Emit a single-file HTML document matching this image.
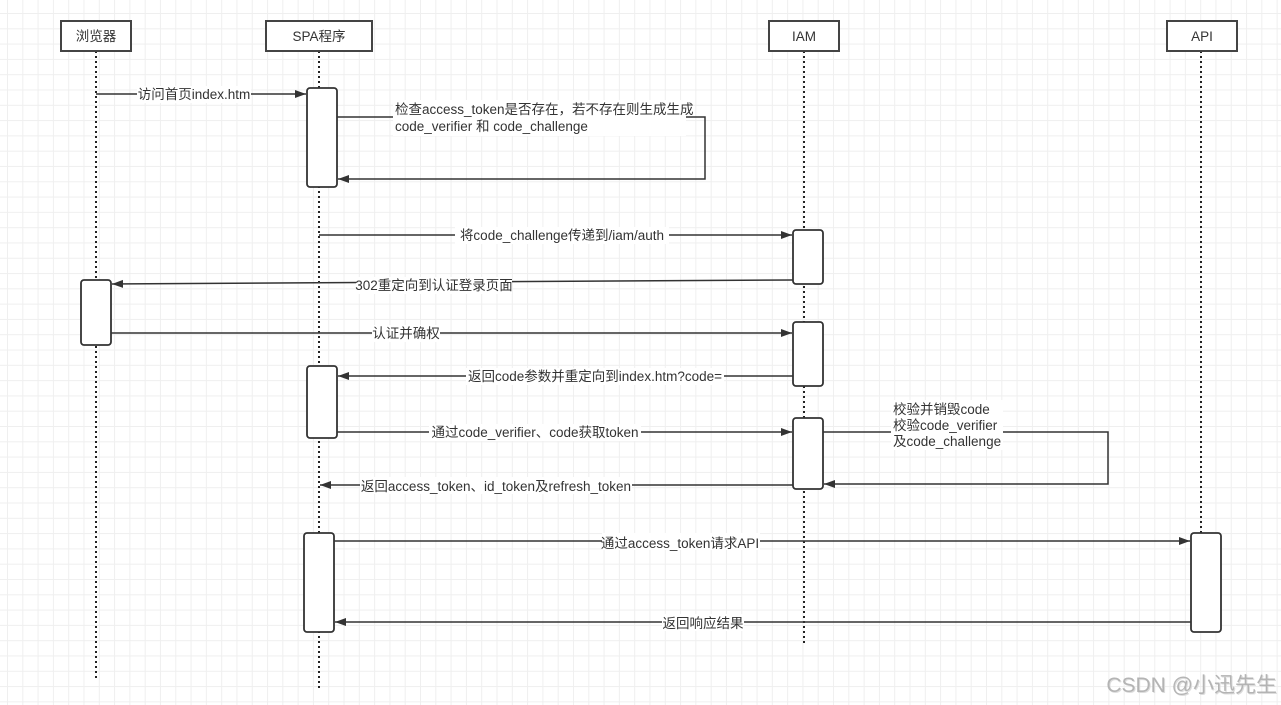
<!DOCTYPE html>
<html><head><meta charset="utf-8"><style>
html,body{margin:0;padding:0;}
body{width:1281px;height:705px;overflow:hidden;background:#fff;
background-image:linear-gradient(to right,#efefef 1px,transparent 1px),linear-gradient(to bottom,#efefef 1px,transparent 1px);
background-size:15.3px 15.3px;background-position:7px 13px;}
svg{position:absolute;left:0;top:0;}
text{font-family:"Liberation Sans","Noto Sans CJK SC",sans-serif;font-size:13.5px;fill:#333;}
</style></head><body>
<svg width="1281" height="705" viewBox="0 0 1281 705">
<defs><marker id="a" markerWidth="12" markerHeight="10" refX="11" refY="4" orient="auto" markerUnits="userSpaceOnUse"><path d="M0,0 L11,4 L0,8 Z" fill="#333"/></marker></defs>
<g stroke="#222" stroke-width="2" stroke-dasharray="2,3">
<line x1="96" y1="51" x2="96" y2="680"/>
<line x1="319" y1="51" x2="319" y2="690"/>
<line x1="804" y1="51" x2="804" y2="643"/>
<line x1="1201" y1="51" x2="1201" y2="632"/>
</g>
<g fill="#fff" stroke="#444" stroke-width="2">
<rect x="61" y="21" width="70" height="30"/>
<rect x="266" y="21" width="106" height="30"/>
<rect x="769" y="21" width="70" height="30"/>
<rect x="1167" y="21" width="70" height="30"/>
</g>
<g text-anchor="middle" style="font-size:14px">
<text x="96" y="41">浏览器</text><text x="319" y="41">SPA程序</text><text x="804" y="41">IAM</text><text x="1202" y="41">API</text>
</g>
<g fill="#fff" stroke="#333" stroke-width="1.8">
<rect x="307" y="88" width="30" height="99" rx="3"/>
<rect x="793" y="230" width="30" height="54" rx="3"/>
<rect x="81" y="280" width="30" height="65" rx="3"/>
<rect x="793" y="322" width="30" height="64" rx="3"/>
<rect x="307" y="366" width="30" height="72" rx="3"/>
<rect x="793" y="418" width="30" height="71" rx="3"/>
<rect x="304" y="533" width="30" height="99" rx="3"/>
<rect x="1191" y="533" width="30" height="99" rx="3"/>
</g>
<g stroke="#333" stroke-width="1.5" fill="none" marker-end="url(#a)">
<line x1="96" y1="94" x2="306" y2="94"/>
<polyline points="337,117 705,117 705,179 338,179"/>
<line x1="319" y1="235" x2="792" y2="235"/>
<line x1="793" y1="280" x2="112" y2="284"/>
<line x1="111" y1="333" x2="792" y2="333"/>
<line x1="793" y1="376" x2="338" y2="376"/>
<line x1="337" y1="432" x2="792" y2="432"/>
<polyline points="823,432 1108,432 1108,484 824,484"/>
<line x1="793" y1="485" x2="320" y2="485"/>
<line x1="334" y1="541" x2="1190" y2="541"/>
<line x1="1191" y1="622" x2="335" y2="622"/>
</g>
<g fill="#fff">
<rect x="137" y="86" width="114" height="17"/>
<rect x="393" y="100" width="293" height="36"/>
<rect x="455" y="227" width="214" height="17"/>
<rect x="356" y="277" width="156" height="17"/>
<rect x="372" y="325" width="68" height="17"/>
<rect x="466" y="368" width="258" height="17"/>
<rect x="429" y="424" width="212" height="17"/>
<rect x="891" y="400" width="112" height="50"/>
<rect x="360" y="477" width="272" height="17"/>
<rect x="602" y="533" width="158" height="17"/>
<rect x="662" y="614" width="82" height="17"/>
</g>
<text x="194" y="99" text-anchor="middle">访问首页index.htm</text>
<text x="395" y="114">检查access_token是否存在，若不存在则生成生成</text>
<text x="395" y="131">code_verifier 和 code_challenge</text>
<text x="562" y="240" text-anchor="middle">将code_challenge传递到/iam/auth</text>
<text x="434" y="290" text-anchor="middle">302重定向到认证登录页面</text>
<text x="406" y="338" text-anchor="middle">认证并确权</text>
<text x="595" y="381" text-anchor="middle">返回code参数并重定向到index.htm?code=</text>
<text x="535" y="437" text-anchor="middle">通过code_verifier、code获取token</text>
<text x="893" y="414">校验并销毁code</text>
<text x="893" y="430">校验code_verifier</text>
<text x="893" y="446">及code_challenge</text>
<text x="496" y="491" text-anchor="middle">返回access_token、id_token及refresh_token</text>
<text x="680" y="548" text-anchor="middle">通过access_token请求API</text>
<text x="703" y="628" text-anchor="middle">返回响应结果</text>
<text x="1278" y="693" text-anchor="end" style="font-size:21px;fill:#ddd">CSDN @小迅先生</text>
<text x="1277" y="692" text-anchor="end" style="font-size:21px;fill:#b4b4b4">CSDN @小迅先生</text>
</svg>
</body></html>
